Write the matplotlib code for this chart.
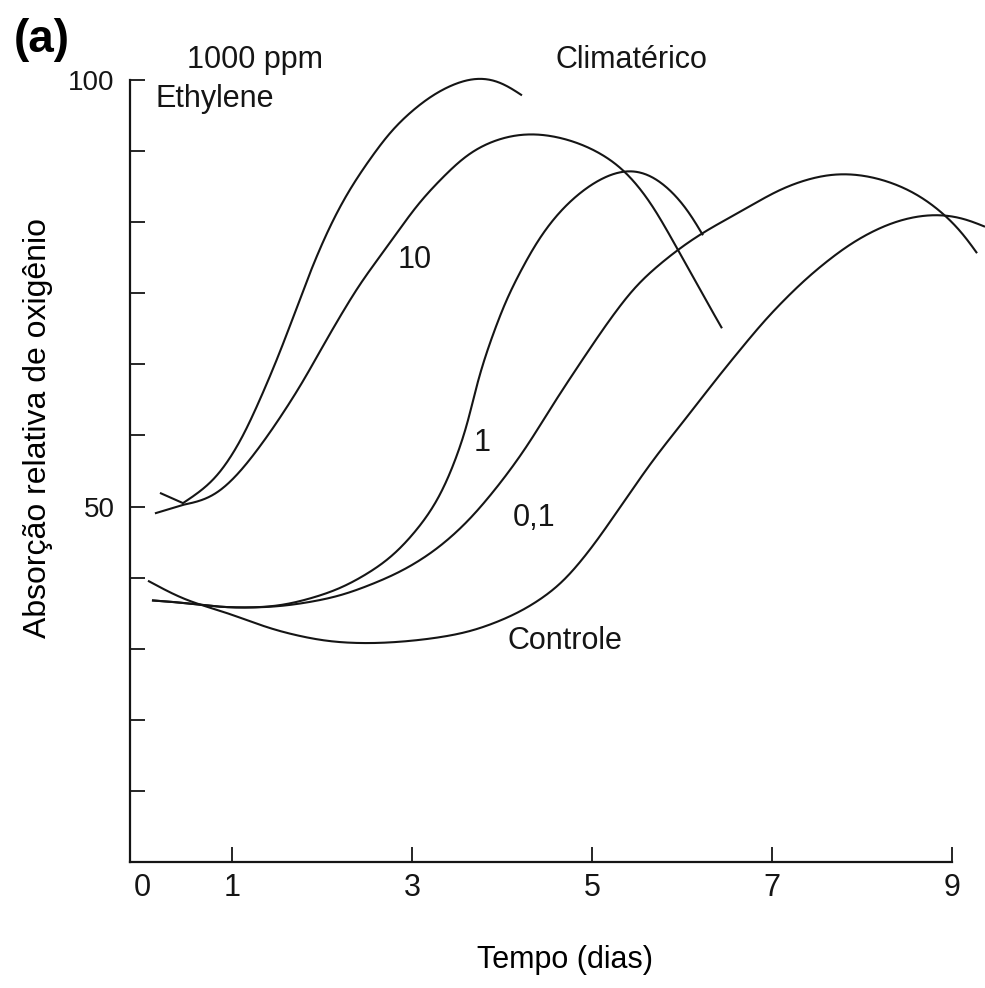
import matplotlib
matplotlib.use("Agg")
import matplotlib.pyplot as plt
import numpy as np

plt.rcParams['font.family'] = ['Liberation Sans', 'DejaVu Sans']

# ---- data (days, relative O2 uptake) ----
x_1000 = [0.200, 0.456, 0.789, 1.089, 1.311, 1.500, 1.678, 1.867, 2.056, 2.233, 2.389, 2.789, 3.233, 3.678,
          3.944, 4.222]
y_1000 = [51.6, 50.4, 52.6, 57.4, 62.5, 67.2, 72.1, 77.5, 82.2, 85.9, 88.6, 94.5, 98.5, 100.6,
          100.4, 98.2]

x_10 = [0.144, 0.456, 0.756, 1.089, 1.422, 1.756, 2.089, 2.422, 2.722, 3.089, 3.644, 4.056, 4.389, 4.789,
        5.089, 5.344, 5.644, 5.956, 6.200, 6.444]
y_10 = [49.2, 50.2, 50.5, 53.9, 58.6, 64.0, 70.3, 76.2, 80.4, 85.9, 91.8, 93.6, 93.9, 93.0,
        91.6, 89.8, 85.9, 80.1, 75.4, 70.9]

x_1 = [0.111, 0.533, 0.867, 1.533, 2.200, 2.756, 3.089, 3.278, 3.456, 3.611, 3.722, 3.833, 4.056, 4.389,
       4.644, 4.978, 5.344, 5.567, 5.833, 6.056, 6.233]
y_1 = [39.0, 38.7, 38.1, 38.2, 40.2, 43.7, 47.6, 50.4, 54.6, 59.3, 64.5, 68.3, 74.6, 81.2,
       84.8, 87.9, 89.8, 89.7, 87.7, 85.1, 81.8]

x_01 = [0.111, 0.533, 0.867, 1.533, 2.200, 2.867, 3.278, 3.644, 4.011, 4.278, 4.567, 4.867, 5.167, 5.500,
        5.944, 6.233, 6.644, 7.122, 7.611, 7.944, 8.278, 8.611, 8.900, 9.122, 9.278]
y_01 = [39.0, 38.7, 38.1, 38.2, 39.4, 42.2, 44.9, 48.4, 53.1, 57.0, 62.0, 66.8, 71.5, 76.2,
        80.1, 82.2, 84.5, 87.5, 89.1, 89.1, 88.3, 86.8, 84.5, 82.2, 79.7]

x_ctrl = [0.067, 0.500, 0.867, 1.456, 2.056, 2.567, 3.089, 3.644, 4.200, 4.644, 5.011, 5.311, 5.678, 6.056,
          6.422, 6.944, 7.389, 7.867, 8.278, 8.611, 8.900, 9.167, 9.367]
y_ctrl = [41.3, 38.8, 37.9, 35.5, 34.1, 33.9, 34.3, 35.2, 37.5, 40.6, 45.3, 49.9, 55.5, 60.5,
          65.5, 72.2, 76.9, 80.9, 83.2, 84.2, 84.4, 83.9, 82.8]

x_ticks = [0, 1, 3, 5, 7, 9]
x_ticklabels = ["0", "1", "3", "5", "7", "9"]
y_step = 50 / 6
y_ticks = [100 - k * y_step for k in range(12)]
y_ticklabels = ["100" if k == 0 else ("50" if k == 6 else "") for k in range(12)]


def smooth_path(P, sigma=20.0, step=1.0, keep_head=0):
    """Resample a polyline (display px) by arc length and Gaussian-smooth it."""
    head_pts = P[:keep_head]
    P = P[keep_head:]
    d = np.r_[0, np.cumsum(np.hypot(*np.diff(P, axis=0).T))]
    s = np.r_[np.arange(0, d[-1], step), d[-1]]
    R = np.column_stack([np.interp(s, d, P[:, 0]), np.interp(s, d, P[:, 1])])
    m = min(int(3 * sigma / step), len(R) - 2)
    head = 2 * R[0] - R[1:m + 1][::-1]
    tail = 2 * R[-1] - R[-m - 1:-1][::-1]
    Q = np.vstack([head, R, tail])
    k = np.arange(-m, m + 1)
    w = np.exp(-0.5 * (k * step / sigma) ** 2)
    w /= w.sum()
    out = np.column_stack([np.convolve(Q[:, 0], w, mode="valid"),
                           np.convolve(Q[:, 1], w, mode="valid")])
    return np.vstack([head_pts, out]) if keep_head else out


fig = plt.figure(figsize=(9.85, 9.88), dpi=100)
ax = fig.add_axes([130 / 985, 1 - 862 / 988, (952 - 130) / 985, (862 - 80) / 988])
ax.set_xlim(-0.133, 9.0)
ax.set_ylim(y_ticks[-1], 100)

series = [(x_1000, y_1000, 1), (x_10, y_10, 1), (x_1, y_1, 0), (x_01, y_01, 0), (x_ctrl, y_ctrl, 0)]
for xs, ys, kh in series:
    disp = ax.transData.transform(np.column_stack([xs, ys]))
    sm = smooth_path(disp, keep_head=kh)
    data = ax.transData.inverted().transform(sm)
    ax.plot(data[:, 0], data[:, 1], color="#151515", lw=1.5, clip_on=False, solid_capstyle="butt")

for s in ["top", "right"]:
    ax.spines[s].set_visible(False)
for s in ["left", "bottom"]:
    ax.spines[s].set_linewidth(1.6)
    ax.spines[s].set_color("#151515")

ax.set_xticks(x_ticks)
ax.set_xticklabels(x_ticklabels, fontsize=22)
ax.set_yticks(y_ticks)
ax.set_yticklabels(y_ticklabels, fontsize=20)
ax.tick_params(axis="x", direction="in", length=11, width=1.3, pad=8, colors="#151515")
ax.tick_params(axis="y", direction="in", length=11, width=1.3, pad=11, colors="#151515")
ax.xaxis.get_major_ticks()[0].tick1line.set_visible(False)

ax.set_xlabel("Tempo (dias)", fontsize=22, va="center")
ax.xaxis.set_label_coords((565 - 130) / 822, (862 - 960) / 782)
ax.set_ylabel("Absorção relativa de oxigênio", fontsize=23, va="center")
ax.yaxis.set_label_coords((38 - 130) / 822, (862 - 428) / 782)

kw = dict(ha="center", va="center", color="#151515", clip_on=False)
ax.text(1.26, 102.4, "1000 ppm", fontsize=22, **kw)
ax.text(0.81, 97.8, "Ethylene", fontsize=22, **kw)
ax.text(5.44, 102.3, "Climatérico", fontsize=22, **kw)
ax.text(3.03, 78.9, "10", fontsize=22, **kw)
ax.text(3.78, 57.4, "1", fontsize=22, **kw)
ax.text(4.36, 48.7, "0,1", fontsize=22, **kw)
ax.text(4.70, 34.2, "Controle", fontsize=22, **kw)
fig.text(42 / 985, 1 - 40 / 988, "(a)", fontsize=33, fontweight="bold", ha="center", va="center")

fig.savefig("out.png", dpi=100)
